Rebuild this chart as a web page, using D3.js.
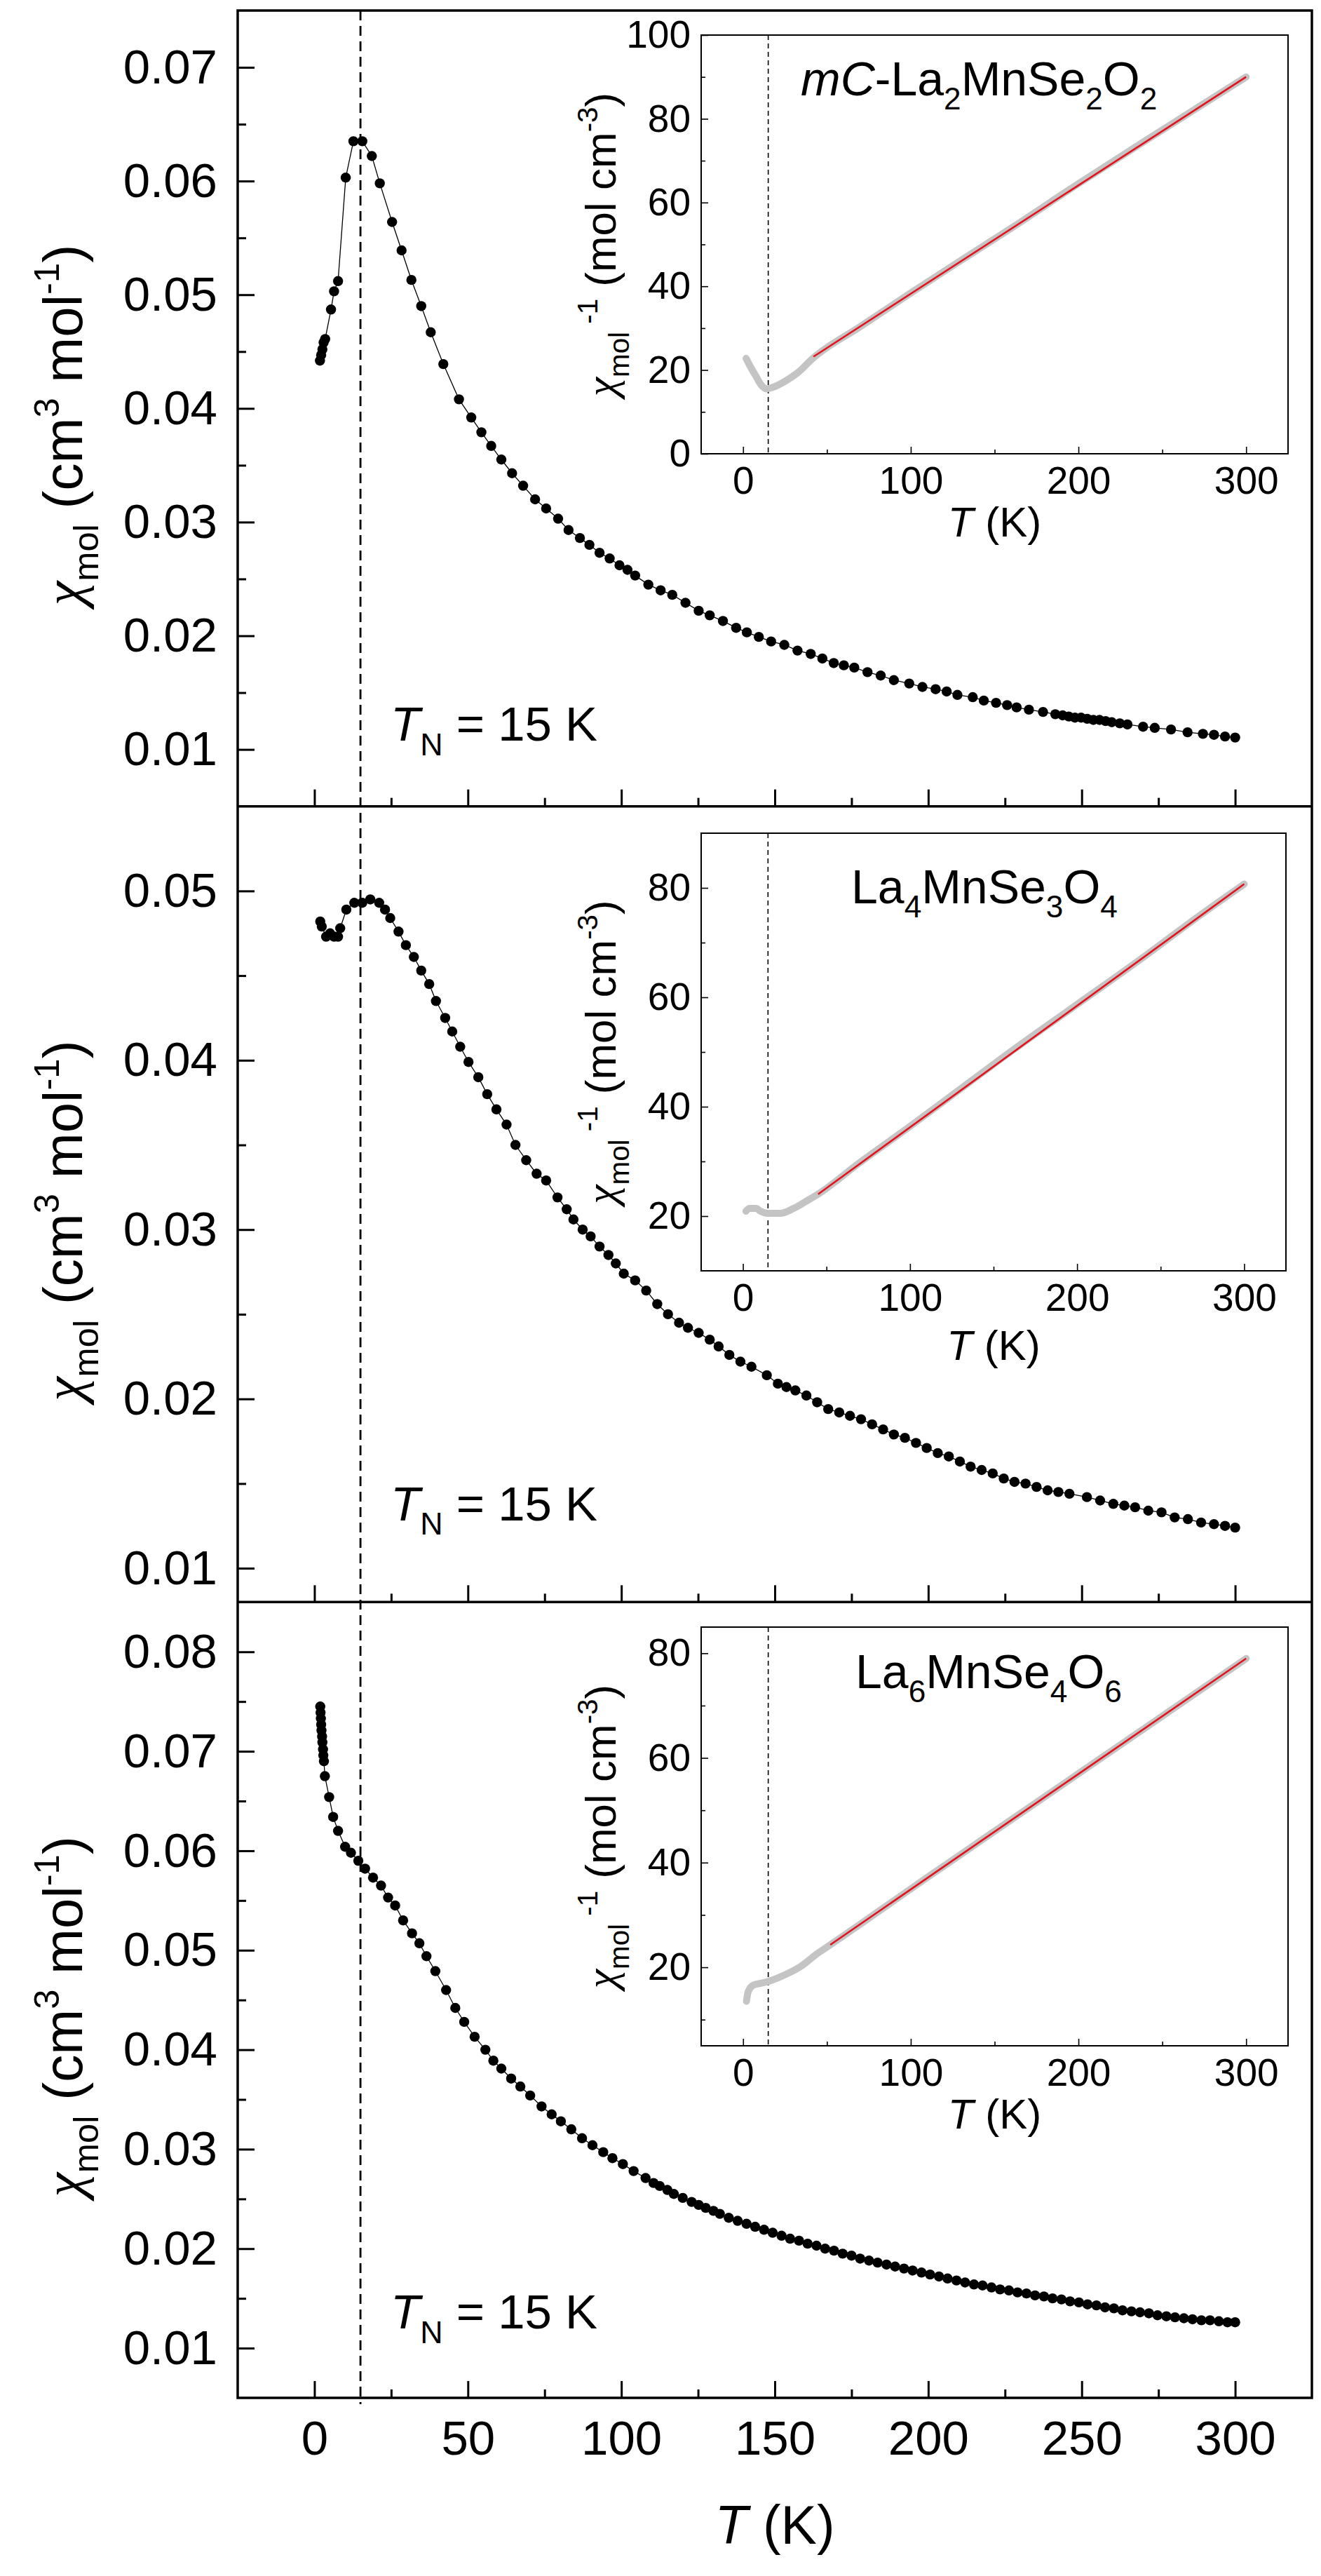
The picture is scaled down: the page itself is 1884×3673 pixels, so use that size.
<!DOCTYPE html>
<html>
<head>
<meta charset="utf-8">
<script src="https://cdn.jsdelivr.net/npm/d3@7"></script>
<style>
body { margin: 0; background: #fff; }
svg { display: block; }
text { font-family: "Liberation Sans", Arial, sans-serif; fill: #000; }
</style>
</head>
<body>
<script>
const width = 1884;
const height = 3673;

const frame = ({top: 15, right: 1871, bottom: 3419, left: 339});
const panelH = (frame.bottom - frame.top) / 3;

// panel A : mC-La2MnSe2O2
const tempA = [1.8, 2.2, 2.6, 3.0, 3.5, 5.4, 6.4, 7.7, 10.2, 12.7, 15.6, 18.7, 21.3, 25.3, 28.4, 31.6, 34.8, 37.9, 42.0, 47.1,
  51.1, 54.4, 57.6, 60.9, 64.4, 68.0, 71.9, 75.5, 79.4, 82.8, 86.5, 89.6, 92.9, 96.2, 99.4, 102.0, 104.5, 108.8, 112.8, 116.6,
  120.9, 125.2, 128.8, 133.1, 137.4, 140.9, 144.8, 148.8, 153.1, 157.4, 161.7, 165.5, 169.2, 172.5, 175.9, 180.2, 184.5, 188.8, 193.8, 198.1,
  202.4, 206.0, 209.5, 214.5, 218.1, 222.1, 225.7, 228.8, 232.8, 237.4, 241.4, 243.8, 245.8, 247.8, 249.8, 251.8, 253.8, 255.8, 257.8, 259.8,
  262.4, 264.9, 270.0, 273.8, 279.1, 284.5, 289.5, 293.1, 296.7, 300.0];
const chiA = [0.0442, 0.0447, 0.0452, 0.0458, 0.0461, 0.0487, 0.0503, 0.0512, 0.0603, 0.0635, 0.0635, 0.0622, 0.0598, 0.0564, 0.0539, 0.0513, 0.0490, 0.0467, 0.0439, 0.0408,
  0.0392, 0.0379, 0.0367, 0.0355, 0.0343, 0.0332, 0.0320, 0.0312, 0.0303, 0.0293, 0.0286, 0.0280, 0.0273, 0.0268, 0.0262, 0.0258, 0.0253, 0.0245, 0.0240, 0.0236,
  0.0229, 0.0222, 0.0218, 0.0213, 0.0207, 0.0203, 0.0199, 0.0195, 0.0192, 0.0187, 0.0184, 0.0180, 0.0176, 0.0174, 0.0172, 0.0168, 0.0165, 0.0161, 0.0158, 0.0155,
  0.0153, 0.0151, 0.0148, 0.0146, 0.0143, 0.0141, 0.0139, 0.0137, 0.0135, 0.0133, 0.0131, 0.0130, 0.0129, 0.0128, 0.0128, 0.0127, 0.0126, 0.0126, 0.0125, 0.0124,
  0.0123, 0.0122, 0.0120, 0.0119, 0.01176, 0.01151, 0.01137, 0.01129, 0.01114, 0.01105];

// panel B : La4MnSe3O4
const tempB = [1.9, 2.4, 3.8, 5.1, 6.4, 7.7, 8.4, 10.4, 13.0, 15.6, 18.2, 21.1, 23.0, 24.7, 27.4, 29.8, 32.4, 34.8, 37.4, 39.6,
  42.6, 44.9, 47.5, 50.2, 53.4, 56.3, 59.3, 62.6, 65.5, 69.0, 72.4, 75.5, 79.2, 82.2, 84.4, 87.4, 90.0, 92.9, 95.8, 98.2,
  100.8, 104.5, 108.1, 111.7, 115.2, 118.8, 121.7, 125.2, 128.8, 131.7, 135.2, 138.8, 142.4, 147.4, 151.0, 153.8, 156.7, 160.3, 163.8, 167.4,
  171.0, 174.5, 178.1, 181.7, 185.3, 188.8, 192.4, 196.0, 199.5, 203.1, 206.7, 210.3, 213.8, 217.4, 221.0, 224.6, 228.1, 231.7, 235.3, 238.9,
  242.4, 246.0, 251.7, 256.0, 260.3, 263.9, 267.4, 271.7, 276.0, 280.3, 284.6, 288.9, 293.1, 296.7, 300.0];
const chiB = [0.0482, 0.0479, 0.0473, 0.0475, 0.0473, 0.0473, 0.0478, 0.0489, 0.0493, 0.0493, 0.0495, 0.0493, 0.0489, 0.0484, 0.0476, 0.0468, 0.0461, 0.0453, 0.0445, 0.0435,
  0.0425, 0.0417, 0.0408, 0.0399, 0.0390, 0.0380, 0.0371, 0.0362, 0.0350, 0.0341, 0.0333, 0.0329, 0.0319, 0.0312, 0.0306, 0.0300, 0.0296, 0.0290, 0.0285, 0.0280,
  0.0274, 0.0270, 0.0264, 0.0256, 0.0250, 0.0245, 0.0242, 0.0239, 0.0235, 0.0231, 0.0226, 0.0222, 0.0219, 0.0214, 0.0209, 0.0207, 0.0205, 0.0202, 0.0198, 0.0194,
  0.0192, 0.0190, 0.0188, 0.0185, 0.0182, 0.0179, 0.0177, 0.0174, 0.0171, 0.0168, 0.0166, 0.0163, 0.0160, 0.0158, 0.0156, 0.0153, 0.0151, 0.0150, 0.0148, 0.0146,
  0.0145, 0.0144, 0.0142, 0.0140, 0.0138, 0.0137, 0.0136, 0.0134, 0.0133, 0.0130, 0.0129, 0.0127, 0.0126, 0.0125, 0.0124];

// panel C : La6MnSe4O6
const tempC = [1.9, 2.0, 2.1, 2.2, 2.3, 2.5, 2.6, 2.8, 2.9, 3.1, 3.4, 4.8, 6.1, 7.7, 10.0, 11.9, 14.3, 16.5, 19.1, 21.7,
  24.0, 26.3, 28.9, 31.8, 34.2, 36.5, 39.4, 42.9, 45.9, 48.8, 52.2, 55.7, 58.3, 60.9, 64.1, 67.1, 70.3, 74.0, 77.3, 80.3,
  83.7, 87.2, 90.6, 94.1, 97.1, 100.5, 104.0, 107.9, 110.5, 112.5, 115.0, 117.1, 120.0, 122.9, 125.2, 127.5, 130.0, 132.1, 135.0, 137.9,
  140.8, 143.6, 146.5, 149.3, 152.2, 155.0, 157.9, 160.7, 163.6, 166.4, 169.3, 172.1, 175.0, 177.8, 180.7, 183.5, 186.4, 189.2, 192.1, 194.9,
  197.8, 200.6, 203.5, 206.3, 209.2, 212.0, 214.9, 217.7, 220.6, 223.4, 226.3, 229.1, 232.0, 234.8, 237.7, 240.5, 243.4, 246.2, 249.1, 251.9,
  254.8, 257.6, 260.5, 263.3, 266.2, 269.0, 271.9, 274.7, 277.6, 280.4, 283.3, 286.1, 289.0, 291.8, 294.7, 297.5, 300.0];
const chiC = [0.0745, 0.0739, 0.0733, 0.0727, 0.0721, 0.0715, 0.0709, 0.0702, 0.0696, 0.0690, 0.0675, 0.0654, 0.0634, 0.0620, 0.0604, 0.0598, 0.0590, 0.0582, 0.0573, 0.0565,
  0.0553, 0.0545, 0.0530, 0.0517, 0.0507, 0.0494, 0.0479, 0.0460, 0.0442, 0.0428, 0.0413, 0.0400, 0.0389, 0.0381, 0.0371, 0.0363, 0.0354, 0.0343, 0.0335, 0.0328,
  0.0320, 0.0311, 0.0304, 0.0297, 0.0291, 0.0285, 0.0278, 0.0271, 0.0266, 0.0263, 0.0259, 0.0255, 0.0251, 0.0247, 0.0244, 0.0241, 0.0238, 0.0235, 0.0231, 0.0228,
  0.0225, 0.0222, 0.0219, 0.0216, 0.0213, 0.0210, 0.0208, 0.0205, 0.0203, 0.0200, 0.0198, 0.0195, 0.0193, 0.0190, 0.0188, 0.0186, 0.0184, 0.0182, 0.0180, 0.0178,
  0.0176, 0.0174, 0.0172, 0.0170, 0.0168, 0.0166, 0.0164, 0.0163, 0.0161, 0.0159, 0.0158, 0.0156, 0.0155, 0.0153, 0.0152, 0.0150, 0.0149, 0.0147, 0.0146, 0.0144,
  0.0143, 0.0141, 0.0140, 0.0138, 0.0137, 0.0136, 0.0135, 0.0133, 0.0132, 0.0131, 0.0130, 0.0129, 0.0128, 0.0128, 0.0127, 0.0126, 0.0126];

// insets: inverse susceptibility (grey data) and Curie-Weiss fit (red)
const invT1 = [1.8, 3.7, 7.4, 10.8, 14.0, 17.9, 24.5, 32.4, 41.6, 70, 100, 130, 160, 200, 240, 270, 300];
const invV1 = [22.8, 21.3, 18.7, 16.4, 15.5, 15.9, 17.2, 19.3, 22.8, 30.4, 38.4, 46.2, 53.9, 64.5, 74.8, 82.4, 90.0];
const fitT1 = [42, 300];
const fitV1 = [23.2, 90.0];

const invT2 = [1.8, 3.9, 7.9, 10.5, 15.3, 22.4, 30.3, 38.3, 44.9, 70, 100, 130, 160, 200, 240, 270, 300];
const invV2 = [20.9, 21.4, 21.4, 20.9, 20.5, 20.5, 21.4, 22.8, 24.0, 29.8, 36.4, 43.2, 50.0, 58.7, 67.4, 74.2, 80.7];
const fitT2 = [45, 300];
const fitV2 = [24.0, 80.7];

const invT3 = [2.0, 3.0, 6.1, 10, 15, 24.5, 35, 42.9, 52.1, 80, 110, 140, 170, 200, 240, 270, 300];
const invV3 = [13.5, 15.3, 16.6, 16.9, 17.3, 18.5, 20.3, 22.3, 24.3, 30.5, 37.2, 43.8, 50.4, 57.0, 65.8, 72.4, 79.0];
const fitT3 = [52, 300];
const fitV3 = [24.3, 79.0];

const TN = 15;

// ticks
const xMajor = [0, 50, 100, 150, 200, 250, 300];
const xMinor = [25, 75, 125, 175, 225, 275];
const yDomains = [[0.005, 0.075], [0.008, 0.055], [0.005, 0.085]];
const yMajorA = [0.01, 0.02, 0.03, 0.04, 0.05, 0.06, 0.07];
const yMinorA = [0.015, 0.025, 0.035, 0.045, 0.055, 0.065];
const yMajorB = [0.01, 0.02, 0.03, 0.04, 0.05];
const yMinorB = [0.015, 0.025, 0.035, 0.045];
const yMajorC = [0.01, 0.02, 0.03, 0.04, 0.05, 0.06, 0.07, 0.08];
const yMinorC = [0.015, 0.025, 0.035, 0.045, 0.055, 0.065, 0.075];

const insetXMajor = [0, 100, 200, 300];
const insetXMinor = [50, 150, 250];
const insetDomains = [[0, 100], [10, 90], [5, 85]];
const insetYMajor = [[0, 20, 40, 60, 80, 100], [20, 40, 60, 80], [20, 40, 60, 80]];
const insetYMinor = [[10, 30, 50, 70, 90], [30, 50, 70], [10, 30, 50, 70]];

const titles = [
  [{t: "mC", it: true}, {t: "-La"}, {t: "2", sub: true}, {t: "MnSe"}, {t: "2", sub: true}, {t: "O"}, {t: "2", sub: true}],
  [{t: "La"}, {t: "4", sub: true}, {t: "MnSe"}, {t: "3", sub: true}, {t: "O"}, {t: "4", sub: true}],
  [{t: "La"}, {t: "6", sub: true}, {t: "MnSe"}, {t: "4", sub: true}, {t: "O"}, {t: "6", sub: true}]
];

const panels = [
  {T: tempA, chi: chiA, yMajor: yMajorA, yMinor: yMinorA, invT: invT1, invV: invV1, fitT: fitT1, fitV: fitV1},
  {T: tempB, chi: chiB, yMajor: yMajorB, yMinor: yMinorB, invT: invT2, invV: invV2, fitT: fitT2, fitV: fitV2},
  {T: tempC, chi: chiC, yMajor: yMajorC, yMinor: yMinorC, invT: invT3, invV: invV3, fitT: fitT3, fitV: fitV3}
];

// layout of the three insets (pixels)
const insetBox = [
  {l: 1000, r: 1837, t: 50, b: 647},
  {l: 1000, r: 1834, t: 1188, b: 1812},
  {l: 1000, r: 1837, t: 2320, b: 2917}
];
const tnBaseline = [1041, 1018, 1036];
const titlePos = [[1142, 136], [1214, 1288], [1220, 2407]];
const insetXlabelGap = [118, 127, 118];

const richText = (sel, parts, size) => {
  let cur = 0;
  parts.forEach(p => {
    const shift = p.sub ? size * 0.3 : p.sup ? -size * 0.42 : 0;
    const ts = sel.append("tspan").text(p.t).attr("dy", shift - cur);
    cur = shift;
    if (p.sub || p.sup) ts.attr("font-size", size * 0.65);
    if (p.it) ts.attr("font-style", "italic");
    if (p.serif) ts.attr("font-family", "'Liberation Serif', serif");
  });
};

const styleAxis = (g, size, sw) => {
  g.attr("font-family", null).attr("font-size", size);
  g.select(".domain").remove();
  g.selectAll("line").attr("stroke-width", sw);
};

const svg = d3.select("body").append("svg")
  .attr("width", width)
  .attr("height", height)
  .attr("viewBox", [0, 0, width, height]);

svg.append("rect").attr("width", width).attr("height", height).attr("fill", "#fff");

const x = d3.scaleLinear().domain([-25, 325]).range([frame.left, frame.right]);

// vertical T_N line across the three panels
svg.append("line")
  .attr("x1", x(TN)).attr("x2", x(TN))
  .attr("y1", frame.top).attr("y2", frame.bottom + 9)
  .attr("stroke", "#000").attr("stroke-width", 2.8)
  .attr("stroke-dasharray", "14,8");

panels.forEach((p, i) => {
  const top = frame.top + i * panelH;
  const bottom = top + panelH;

  const y = d3.scaleLinear().domain(yDomains[i]).range([bottom, top]);

  // x ticks on the bottom edge of the panel, inward
  svg.append("g")
    .attr("transform", `translate(0,${bottom})`)
    .call(d3.axisBottom(x).tickValues(xMajor).tickSizeInner(-24).tickSizeOuter(0)
      .tickPadding(32).tickFormat(i === 2 ? d3.format("d") : ""))
    .call(styleAxis, 69, 3);
  svg.append("g")
    .attr("transform", `translate(0,${bottom})`)
    .call(d3.axisBottom(x).tickValues(xMinor).tickSizeInner(-12).tickSizeOuter(0).tickFormat(""))
    .call(styleAxis, 69, 3);

  // y ticks
  svg.append("g")
    .attr("transform", `translate(${frame.left},0)`)
    .call(d3.axisLeft(y).tickValues(p.yMajor).tickSizeInner(-24).tickSizeOuter(0)
      .tickPadding(29).tickFormat(d3.format(".2f")))
    .call(styleAxis, 69, 3);
  svg.append("g")
    .attr("transform", `translate(${frame.left},0)`)
    .call(d3.axisLeft(y).tickValues(p.yMinor).tickSizeInner(-12).tickSizeOuter(0).tickFormat(""))
    .call(styleAxis, 69, 3);

  // data
  const pts = p.T.map((t, k) => [t, p.chi[k]]);
  svg.append("path")
    .datum(pts)
    .attr("fill", "none")
    .attr("stroke", "#000")
    .attr("stroke-width", 1.3)
    .attr("d", d3.line().x(d => x(d[0])).y(d => y(d[1])));
  svg.append("g")
    .selectAll("circle")
    .data(pts)
    .join("circle")
    .attr("cx", d => x(d[0]))
    .attr("cy", d => y(d[1]))
    .attr("r", 7.2)
    .attr("fill", "#000");

  // y label
  const yl = svg.append("text")
    .attr("transform", `translate(117,${top + 591}) rotate(-90)`)
    .attr("text-anchor", "middle")
    .attr("font-size", 78);
  richText(yl, [{t: "χ", it: true, serif: true}, {t: "mol", sub: true}, {t: " (cm"}, {t: "3", sup: true},
    {t: " mol"}, {t: "-1", sup: true}, {t: ")"}], 78);

  // T_N annotation
  const tn = svg.append("text")
    .attr("x", 557)
    .attr("y", top + tnBaseline[i])
    .attr("font-size", 69);
  richText(tn, [{t: "T", it: true}, {t: "N", sub: true}, {t: " = 15 K"}], 69);

  // inset
  const b = insetBox[i];
  const ix = d3.scaleLinear().domain([-25, 325]).range([b.l, b.r]);
  const iy = d3.scaleLinear().domain(insetDomains[i]).range([b.b, b.t]);

  svg.append("rect")
    .attr("x", b.l).attr("y", b.t)
    .attr("width", b.r - b.l).attr("height", b.b - b.t)
    .attr("fill", "#fff");

  svg.append("line")
    .attr("x1", ix(TN)).attr("x2", ix(TN))
    .attr("y1", b.t).attr("y2", b.b)
    .attr("stroke", "#000").attr("stroke-width", 1.6)
    .attr("stroke-dasharray", "7,5");

  svg.append("g")
    .attr("transform", `translate(0,${b.b})`)
    .call(d3.axisBottom(ix).tickValues(insetXMajor).tickSizeInner(-10).tickSizeOuter(0)
      .tickPadding(18).tickFormat(d3.format("d")))
    .call(styleAxis, 55, 1.6);
  svg.append("g")
    .attr("transform", `translate(0,${b.b})`)
    .call(d3.axisBottom(ix).tickValues(insetXMinor).tickSizeInner(-6).tickSizeOuter(0).tickFormat(""))
    .call(styleAxis, 55, 1.6);
  svg.append("g")
    .attr("transform", `translate(${b.l},0)`)
    .call(d3.axisLeft(iy).tickValues(insetYMajor[i]).tickSizeInner(-10).tickSizeOuter(0)
      .tickPadding(15).tickFormat(d3.format("d")))
    .call(styleAxis, 55, 1.6);
  svg.append("g")
    .attr("transform", `translate(${b.l},0)`)
    .call(d3.axisLeft(iy).tickValues(insetYMinor[i]).tickSizeInner(-6).tickSizeOuter(0).tickFormat(""))
    .call(styleAxis, 55, 1.6);

  const inv = p.invT.map((t, k) => [t, p.invV[k]]);
  svg.append("path")
    .datum(inv)
    .attr("fill", "none")
    .attr("stroke", "#c4c4c4")
    .attr("stroke-width", 10)
    .attr("stroke-linecap", "round")
    .attr("stroke-linejoin", "round")
    .attr("d", d3.line().curve(d3.curveMonotoneX).x(d => ix(d[0])).y(d => iy(d[1])));

  const fit = p.fitT.map((t, k) => [t, p.fitV[k]]);
  svg.append("path")
    .datum(fit)
    .attr("fill", "none")
    .attr("stroke", "#e3121b")
    .attr("stroke-width", 2.6)
    .attr("d", d3.line().x(d => ix(d[0])).y(d => iy(d[1])));

  svg.append("rect")
    .attr("x", b.l).attr("y", b.t)
    .attr("width", b.r - b.l).attr("height", b.b - b.t)
    .attr("fill", "none")
    .attr("stroke", "#000")
    .attr("stroke-width", 2);

  const tt = svg.append("text")
    .attr("x", titlePos[i][0])
    .attr("y", titlePos[i][1])
    .attr("font-size", 68);
  richText(tt, titles[i], 68);

  const ixl = svg.append("text")
    .attr("x", (b.l + b.r) / 2)
    .attr("y", b.b + insetXlabelGap[i])
    .attr("text-anchor", "middle")
    .attr("font-size", 60);
  richText(ixl, [{t: "T", it: true}, {t: " (K)"}], 60);

  const iyl = svg.append("text")
    .attr("transform", `translate(878,${(b.t + b.b) / 2}) rotate(-90)`)
    .attr("text-anchor", "middle")
    .attr("font-size", 62);
  richText(iyl, [{t: "χ", it: true, serif: true}, {t: "mol", sub: true}, {t: " -1", sup: true},
    {t: " (mol cm"}, {t: "-3", sup: true}, {t: ")"}], 62);
});

// panel separators and outer frame
[1, 2].forEach(k => {
  svg.append("line")
    .attr("x1", frame.left).attr("x2", frame.right)
    .attr("y1", frame.top + k * panelH).attr("y2", frame.top + k * panelH)
    .attr("stroke", "#000").attr("stroke-width", 3.5);
});
svg.append("rect")
  .attr("x", frame.left).attr("y", frame.top)
  .attr("width", frame.right - frame.left)
  .attr("height", frame.bottom - frame.top)
  .attr("fill", "none")
  .attr("stroke", "#000")
  .attr("stroke-width", 3.5);

// main x label
const xl = svg.append("text")
  .attr("x", (frame.left + frame.right) / 2)
  .attr("y", 3627)
  .attr("text-anchor", "middle")
  .attr("font-size", 77);
richText(xl, [{t: "T", it: true}, {t: " (K)"}], 77);
</script>
</body>
</html>
